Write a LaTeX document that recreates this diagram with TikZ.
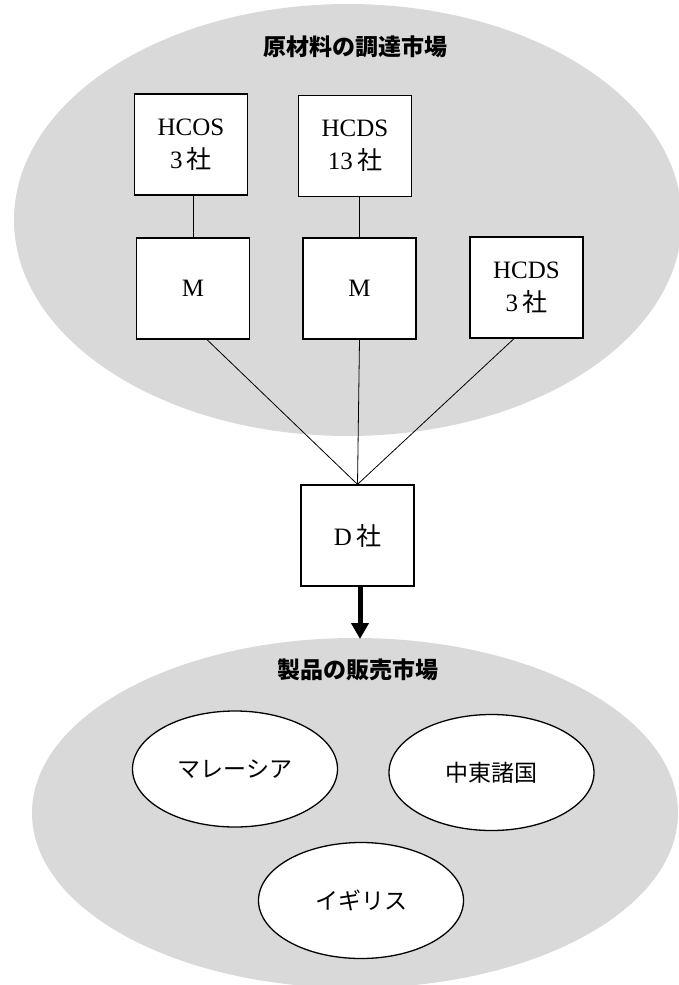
\documentclass[tikz,border=0pt]{standalone}
\usepackage{fontspec}
\setmainfont{Liberation Serif}
\newfontfamily\cjk{Noto Sans CJK JP}
\usetikzlibrary{shapes.geometric,arrows.meta}
\definecolor{bggray}{HTML}{D9D9D9}
\tikzset{
  market/.style={ellipse, fill=bggray, inner sep=0pt},
  firm/.style={rectangle, draw=black, line width=1.3pt, fill=white,
    minimum width=113pt, minimum height=101pt, inner sep=0pt, align=center,
    font=\fontsize{25}{33}\selectfont},
  country/.style={ellipse, draw=black, line width=1.3pt, fill=white,
    minimum width=205pt, minimum height=116pt, inner sep=0pt,
    font=\cjk\fontsize{23}{28}\selectfont},
  title/.style={font=\cjk\bfseries\fontsize{23}{28}\selectfont, inner sep=0pt},
  link/.style={draw=black, line width=0.8pt},
  flow/.style={draw=black, line width=5pt, -{Triangle[width=17pt,length=16pt]}}
}
\begin{document}
\begin{tikzpicture}[x=1pt,y=-1pt]
\useasboundingbox (0,0) rectangle (678,985);
% market areas
\node[market, minimum width=668pt, minimum height=432pt] (supply) at (348,220) {};
\node[market, minimum width=646pt, minimum height=350pt] (sales) at (355,813) {};
% titles
\node[title] (t1) at (355,47) {原材料の調達市場};
\node[title] (t2) at (358,670) {製品の販売市場};
% firms
\node[firm] (hcos) at (191,144.5) {HCOS\\3\,{\cjk 社}};
\node[firm] (hcdsa) at (355,146) {HCDS\\13\,{\cjk 社}};
\node[firm] (m1) at (193,288.5) {M};
\node[firm] (m2) at (359.5,288.5) {M};
\node[firm] (hcdsb) at (526.5,287.5) {HCDS\\3\,{\cjk 社}};
\node[firm] (d) at (357.5,535.5) {D\,{\cjk 社}};
% connectors
\draw[link] (m1.north |- hcos.south) -- (m1.north);
\draw[link] (m2.north |- hcdsa.south) -- (m2.north);
\draw[link] ([xshift=14pt]m1.south) -- (d.north);
\draw[link] (m2.south) -- (d.north);
\draw[link] ([xshift=-12.5pt]hcdsb.south) -- (d.north);
\coordinate (tip) at (360,639);
\draw[flow] (d.south -| tip) -- (tip);
% countries
\node[country] (my) at (235,769) {マレーシア};
\node[country] (me) at (491.5,772.5) {中東諸国};
\node[country] (uk) at (361,900.5) {イギリス};
\end{tikzpicture}
\end{document}
